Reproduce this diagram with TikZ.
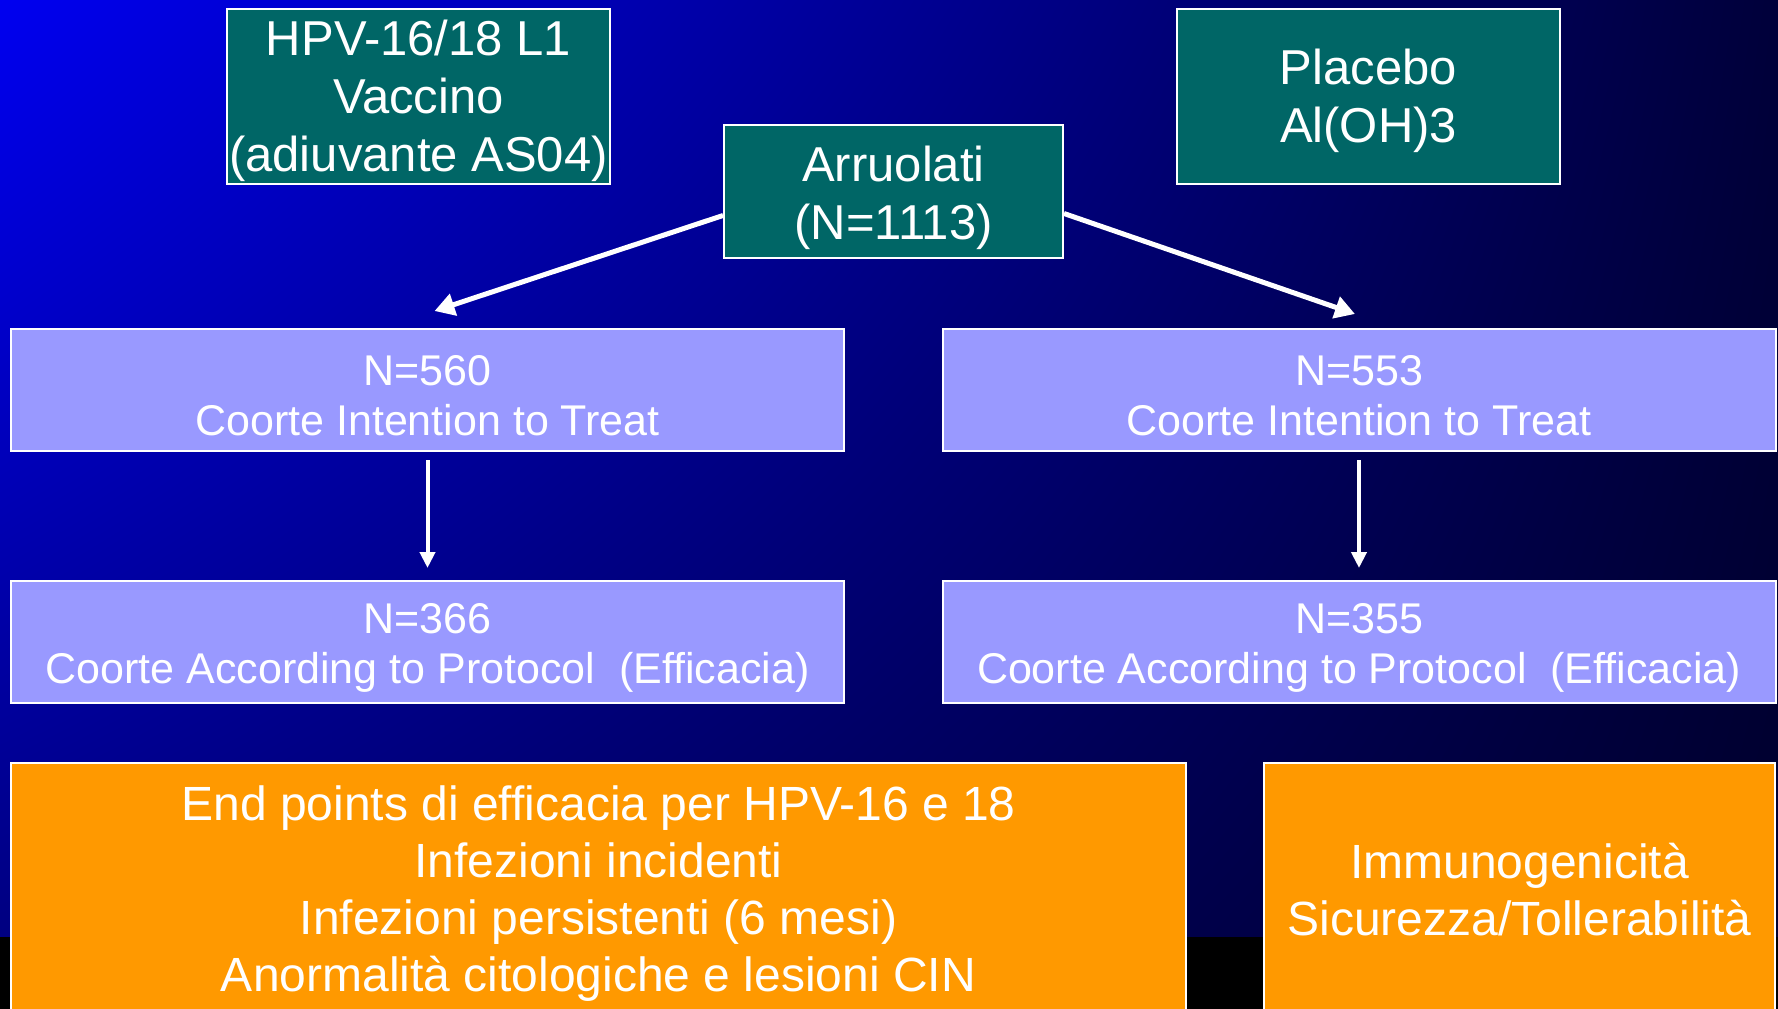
\documentclass[tikz,border=0pt]{standalone}
\usepackage{fontspec}
\setmainfont{Liberation Sans}
\usetikzlibrary{arrows.meta,shadings}
\definecolor{armteal}{RGB}{0,102,102}
\definecolor{cohortblue}{RGB}{153,153,255}
\definecolor{endorange}{RGB}{255,153,0}
\definecolor{bgtl}{RGB}{0,0,240}
\definecolor{bgtr}{RGB}{0,0,58}
\definecolor{bgbl}{RGB}{0,0,120}
\definecolor{bgbr}{RGB}{0,0,45}

\begin{document}
\begin{tikzpicture}[x=1pt, y=-1pt,
  box/.style={draw=white, line width=2pt, text=white, align=center, inner sep=0pt},
  arm/.style={box, fill=armteal, font=\fontsize{49}{58}\selectfont},
  cohort/.style={box, fill=cohortblue, font=\fontsize{43}{50}\selectfont, text height=91pt, minimum width=833pt, minimum height=122pt},
  endpt/.style={box, fill=endorange, font=\fontsize{48}{57}\selectfont, minimum height=254pt},
  flow/.style={white, line width=5pt, -{Triangle[length=20pt, width=22pt]}},
  down/.style={white, line width=4pt, -{Triangle[length=16pt, width=15pt]}, shorten <=8pt, shorten >=12pt}]
\useasboundingbox (0,0) rectangle (1778,1009);
\clip (0,0) rectangle (1778,1009);
\shade[upper left=bgtl, upper right=bgtr, lower left=bgbl, lower right=bgbr] (0,0) rectangle (1778,1009);
\fill[black] (0,937) rectangle (1778,1009);
% treatment arms
\node (vacc) [arm, text height=160pt, minimum width=383pt, minimum height=175pt] at (418.5,96.5) {HPV-16/18 L1\\Vaccino\\(adiuvante AS04)};
\node (plac) [arm, text height=102pt, minimum width=383pt, minimum height=175pt] at (1368.5,96.5) {Placebo\\Al(OH)3};
\node (arr) [arm, text height=106pt, minimum width=339pt, minimum height=133pt] at (893.5,191.5) {Arruolati\\(N=1113)};
% cohorts
\node (itt1) [cohort] at (427.5,390) {N=560\\Coorte Intention to Treat};
\node (itt2) [cohort] at (1359,390) {N=553\\Coorte Intention to Treat};
\node (atp1) [cohort] at (427.5,642) {N=366\\Coorte According to Protocol~~(Efficacia)};
\node (atp2) [cohort] at (1359,642) {N=355\\Coorte According to Protocol~~(Efficacia)};
% end points
\node (end1) [endpt, text height=213pt, minimum width=1175pt] at (598.5,890) {End points di efficacia per HPV-16 e 18\\Infezioni incidenti\\Infezioni persistenti (6 mesi)\\Anormalità citologiche e lesioni CIN};
\node (end2) [endpt, minimum width=511pt] at (1519.5,890) {Immunogenicità\\Sicurezza/Tollerabilità};
\draw[flow] ([yshift=-24pt]arr.west) -- ([xshift=7pt, yshift=17pt]itt1.north);
\draw[flow] ([yshift=-22pt]arr.east) -- ([xshift=-4pt, yshift=14pt]itt2.north);
\draw[down] (itt1) -- (atp1);
\draw[down] (itt2) -- (atp2);
\end{tikzpicture}
\end{document}
